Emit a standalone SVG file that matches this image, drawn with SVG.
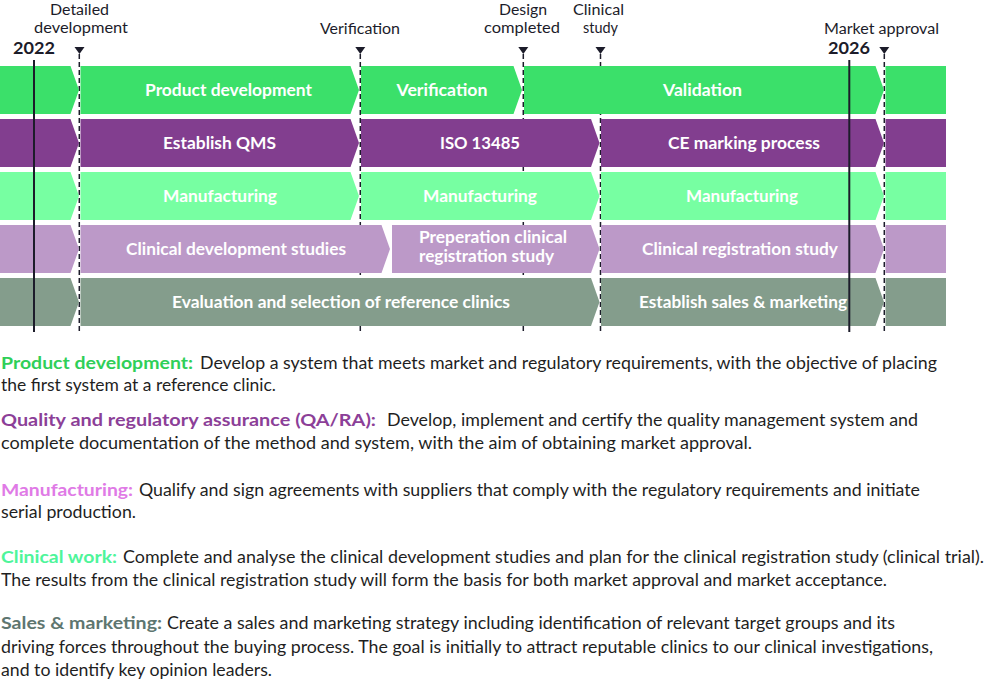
<svg xmlns="http://www.w3.org/2000/svg" width="989" height="683" viewBox="0 0 989 683">
<style>
.lbl{font-family:Lato,"Liberation Sans",sans-serif;font-size:17px;font-weight:700;fill:#ffffff;text-anchor:middle}
.top{font-family:Lato,"Liberation Sans",sans-serif;font-size:15.5px;fill:#1c1c2a;text-anchor:middle}
.yr{font-family:Lato,"Liberation Sans",sans-serif;font-size:17px;font-weight:700;fill:#1c1c2a}
.body{font-family:Lato,"Liberation Sans",sans-serif;font-size:17px;fill:#1f1f1f}
.hd{font-family:Lato,"Liberation Sans",sans-serif;font-size:17px;font-weight:700}
.dash{stroke:#1c1c2a;stroke-width:1.5;stroke-dasharray:5 3;fill:none}
.solid{stroke:#1c1c2a;stroke-width:2;fill:none}
.tri{fill:#1c1c2a}
.r1{fill:#3be06a}.r2{fill:#823e8f}.r3{fill:#77ffa2}.r4{fill:#bc99c8}.r5{fill:#849d8c}
</style>

<g id="milestone-lines">
<line class="dash" x1="79.3" y1="54" x2="79.3" y2="331"/>
<line class="dash" x1="360.3" y1="54" x2="360.3" y2="331"/>
<line class="dash" x1="523.3" y1="54" x2="523.3" y2="331"/>
<line class="dash" x1="600.5" y1="54" x2="600.5" y2="331"/>
<line class="dash" x1="884.3" y1="54" x2="884.3" y2="331"/>
</g>

<g id="row-product">
<g id="r1-pre"><path class="r1" d="M0 66H70.5L79 90L70.5 114H0Z"/></g>
<g id="r1-product-development"><path class="r1" d="M80.5 66H350.5L359 90L350.5 114H80.5Z"/><text class="lbl" x="228.5" y="96" textLength="167" lengthAdjust="spacingAndGlyphs">Product development</text></g>
<g id="r1-verification"><path class="r1" d="M361 66H513.5L522 90L513.5 114H361Z"/><text class="lbl" x="442" y="96" textLength="91" lengthAdjust="spacingAndGlyphs">Verification</text></g>
<g id="r1-validation"><path class="r1" d="M524 66H875.5L884 90L875.5 114H524Z"/><text class="lbl" x="702.5" y="96" textLength="79" lengthAdjust="spacingAndGlyphs">Validation</text></g>
<g id="r1-post"><rect class="r1" x="885.5" y="66" width="60.5" height="48"/></g>
</g>

<g id="row-qa">
<g id="r2-pre"><path class="r2" d="M0 119H70.5L79 143L70.5 167H0Z"/></g>
<g id="r2-establish-qms"><path class="r2" d="M80.5 119H350.5L359 143L350.5 167H80.5Z"/><text class="lbl" x="219.5" y="149" textLength="113" lengthAdjust="spacingAndGlyphs">Establish QMS</text></g>
<g id="r2-iso"><path class="r2" d="M361 119H591L599.5 143L591 167H361Z"/><text class="lbl" x="480" y="149" textLength="80" lengthAdjust="spacingAndGlyphs">ISO 13485</text></g>
<g id="r2-ce"><path class="r2" d="M601 119H875.5L884 143L875.5 167H601Z"/><text class="lbl" x="744" y="149" textLength="152" lengthAdjust="spacingAndGlyphs">CE marking process</text></g>
<g id="r2-post"><rect class="r2" x="885.5" y="119" width="60.5" height="48"/></g>
</g>

<g id="row-manufacturing">
<g id="r3-pre"><path class="r3" d="M0 172H70.5L79 196L70.5 220H0Z"/></g>
<g id="r3-manufacturing-1"><path class="r3" d="M80.5 172H350.5L359 196L350.5 220H80.5Z"/><text class="lbl" x="220" y="202" textLength="114" lengthAdjust="spacingAndGlyphs">Manufacturing</text></g>
<g id="r3-manufacturing-2"><path class="r3" d="M361 172H591L599.5 196L591 220H361Z"/><text class="lbl" x="480" y="202" textLength="114" lengthAdjust="spacingAndGlyphs">Manufacturing</text></g>
<g id="r3-manufacturing-3"><path class="r3" d="M601 172H875.5L884 196L875.5 220H601Z"/><text class="lbl" x="742" y="202" textLength="112" lengthAdjust="spacingAndGlyphs">Manufacturing</text></g>
<g id="r3-post"><rect class="r3" x="885.5" y="172" width="60.5" height="48"/></g>
</g>

<g id="row-clinical">
<g id="r4-pre"><path class="r4" d="M0 225H70.5L79 249L70.5 273H0Z"/></g>
<g id="r4-clinical-development"><path class="r4" d="M80.5 225H381.5L390 249L381.5 273H80.5Z"/><text class="lbl" x="236" y="255" textLength="220" lengthAdjust="spacingAndGlyphs">Clinical development studies</text></g>
<g id="r4-preperation"><path class="r4" d="M392 225H591L599.5 249L591 273H392Z"/><text class="lbl" x="419" y="243" textLength="148" lengthAdjust="spacingAndGlyphs" style="text-anchor:start">Preperation clinical</text><text class="lbl" x="419" y="262" textLength="135" lengthAdjust="spacingAndGlyphs" style="text-anchor:start">registration study</text></g>
<g id="r4-clinical-registration"><path class="r4" d="M601 225H875.5L884 249L875.5 273H601Z"/><text class="lbl" x="740" y="255" textLength="196" lengthAdjust="spacingAndGlyphs">Clinical registration study</text></g>
<g id="r4-post"><rect class="r4" x="885.5" y="225" width="60.5" height="48"/></g>
</g>

<g id="row-sales">
<g id="r5-pre"><path class="r5" d="M0 278H70.5L79 302L70.5 326H0Z"/></g>
<g id="r5-evaluation"><path class="r5" d="M80.5 278H591L599.5 302L591 326H80.5Z"/><text class="lbl" x="341" y="308" textLength="338" lengthAdjust="spacingAndGlyphs">Evaluation and selection of reference clinics</text></g>
<g id="r5-sales"><path class="r5" d="M601 278H875.5L884 302L875.5 326H601Z"/><text class="lbl" x="743" y="308" textLength="208" lengthAdjust="spacingAndGlyphs">Establish sales &amp; marketing</text></g>
<g id="r5-post"><rect class="r5" x="885.5" y="278" width="60.5" height="48"/></g>
</g>

<g id="year-lines">
<line class="solid" x1="34" y1="60" x2="34" y2="332"/>
<line class="solid" x1="849.3" y1="60" x2="849.3" y2="332"/>
</g>

<g id="milestones">
<g id="ms-detailed"><path class="tri" d="M74.5 47H84.5L79.5 54Z"/><text class="top" x="79.5" y="14.5" textLength="59" lengthAdjust="spacingAndGlyphs">Detailed</text><text class="top" x="81" y="33" textLength="94" lengthAdjust="spacingAndGlyphs">development</text></g>
<g id="ms-verification"><path class="tri" d="M355.3 47H365.3L360.3 54Z"/><text class="top" x="360" y="33.5" textLength="80" lengthAdjust="spacingAndGlyphs">Verification</text></g>
<g id="ms-design"><path class="tri" d="M518.3 47H528.3L523.3 54Z"/><text class="top" x="523" y="14.5" textLength="48" lengthAdjust="spacingAndGlyphs">Design</text><text class="top" x="522" y="33" textLength="76" lengthAdjust="spacingAndGlyphs">completed</text></g>
<g id="ms-clinical"><path class="tri" d="M595.5 47H605.5L600.5 54Z"/><text class="top" x="598.5" y="14.5" textLength="51" lengthAdjust="spacingAndGlyphs">Clinical</text><text class="top" x="600.5" y="33" textLength="35" lengthAdjust="spacingAndGlyphs">study</text></g>
<g id="ms-market"><path class="tri" d="M879.3 47H889.3L884.3 54Z"/><text class="top" x="881.5" y="33.5" textLength="115" lengthAdjust="spacingAndGlyphs">Market approval</text></g>
<g id="year-2022"><text class="yr" x="13" y="54" textLength="42" lengthAdjust="spacingAndGlyphs">2022</text></g>
<g id="year-2026"><text class="yr" x="828" y="54" textLength="42" lengthAdjust="spacingAndGlyphs">2026</text></g>
</g>

<g id="description">
<text class="hd" x="1" y="369" fill="#2fcf58" textLength="192" lengthAdjust="spacingAndGlyphs">Product development:</text>
<text class="body" x="200" y="369" textLength="737" lengthAdjust="spacingAndGlyphs">Develop a system that meets market and regulatory requirements, with the objective of placing</text>
<text class="body" x="1" y="391" textLength="275" lengthAdjust="spacingAndGlyphs">the first system at a reference clinic.</text>

<text class="hd" x="1" y="426" fill="#8c3f98" textLength="375" lengthAdjust="spacingAndGlyphs">Quality and regulatory assurance (QA/RA):</text>
<text class="body" x="387" y="426" textLength="531" lengthAdjust="spacingAndGlyphs">Develop, implement and certify the quality management system and</text>
<text class="body" x="1" y="449" textLength="751" lengthAdjust="spacingAndGlyphs">complete documentation of the method and system,  with the aim of obtaining market approval.</text>

<text class="hd" x="1" y="496" fill="#e07ae6" textLength="132" lengthAdjust="spacingAndGlyphs">Manufacturing:</text>
<text class="body" x="139" y="496" textLength="781" lengthAdjust="spacingAndGlyphs">Qualify and sign agreements with suppliers that comply with the regulatory requirements and initiate</text>
<text class="body" x="1" y="518" textLength="135" lengthAdjust="spacingAndGlyphs">serial production.</text>

<text class="hd" x="1" y="563" fill="#4ef59a" textLength="116" lengthAdjust="spacingAndGlyphs">Clinical work:</text>
<text class="body" x="123" y="563" textLength="861" lengthAdjust="spacingAndGlyphs">Complete and analyse the clinical development studies and plan for the clinical registration study (clinical trial).</text>
<text class="body" x="1" y="586" textLength="886" lengthAdjust="spacingAndGlyphs">The results from the clinical registration study will form the basis for both market approval and market acceptance.</text>

<text class="hd" x="1" y="629" fill="#5e7670" textLength="161" lengthAdjust="spacingAndGlyphs">Sales &amp; marketing:</text>
<text class="body" x="167" y="629" textLength="728" lengthAdjust="spacingAndGlyphs">Create a sales and marketing strategy including identification of relevant target groups and its</text>
<text class="body" x="1" y="653" textLength="932" lengthAdjust="spacingAndGlyphs">driving forces throughout the buying process. The goal is initially to attract reputable clinics to our clinical investigations,</text>
<text class="body" x="1" y="676" textLength="271" lengthAdjust="spacingAndGlyphs">and to identify key opinion leaders.</text>
</g>
</svg>
